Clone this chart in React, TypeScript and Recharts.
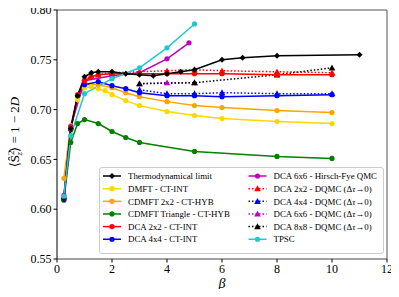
import React from "react";
import { LineChart, Line, XAxis, YAxis, Customized } from "recharts";

// ---- data ----
const thermoBeta = [0.25, 0.5, 0.75, 1, 1.25, 1.5, 2, 2.5, 3, 3.5, 4, 4.5, 5, 6, 6.75, 8, 11];
const thermoVal = [0.611, 0.681, 0.714, 0.733, 0.737, 0.738, 0.738, 0.736, 0.735, 0.734, 0.736, 0.738, 0.740, 0.750, 0.752, 0.754, 0.755];

const dmftBeta = [0.25, 0.5, 0.75, 1, 1.25, 1.5, 1.75, 2, 2.5, 3, 4, 5, 6, 8, 10];
const dmftVal = [0.612, 0.68, 0.71, 0.722, 0.723, 0.721, 0.719, 0.715, 0.709, 0.704, 0.698, 0.694, 0.691, 0.688, 0.686];

const cdmftBeta = [0.25, 0.5, 0.75, 1, 1.5, 2, 2.5, 3, 4, 5, 6, 8, 10];
const cdmftVal = [0.631, 0.684, 0.714, 0.725, 0.725, 0.722, 0.717, 0.713, 0.708, 0.704, 0.702, 0.699, 0.697];

const triBeta = [0.25, 0.5, 0.75, 1, 1.5, 2, 2.5, 3, 5, 8, 10];
const triVal = [0.609, 0.667, 0.686, 0.690, 0.686, 0.678, 0.672, 0.667, 0.658, 0.653, 0.651];

const dca2Beta = [0.25, 0.5, 0.75, 1, 1.25, 1.5, 2, 3, 4, 5, 6, 8, 10];
const dca2Val = [0.611, 0.681, 0.715, 0.729, 0.733, 0.735, 0.736, 0.736, 0.736, 0.736, 0.736, 0.735, 0.735];

const dca4Beta = [0.25, 0.5, 0.75, 1, 1.5, 2, 2.5, 3, 4, 5, 6, 8, 10];
const dca4Val = [0.61, 0.68, 0.714, 0.725, 0.728, 0.724, 0.721, 0.717, 0.714, 0.714, 0.713, 0.714, 0.715];

const hfBeta = [0.25, 0.5, 1, 2, 3, 4, 4.8];
const hfVal = [0.614, 0.683, 0.729, 0.734, 0.737, 0.751, 0.767];

const dq2Beta = [1, 1.5, 2, 3, 4, 5, 6, 8, 10];
const dq2Val = [0.731, 0.735, 0.737, 0.738, 0.739, 0.740, 0.739, 0.738, 0.737];

const dq4Beta = [3, 4, 5, 6, 8, 10];
const dq4Val = [0.720, 0.716, 0.716, 0.717, 0.716, 0.716];

const dq6Beta = [3, 4, 5];
const dq6Val = [0.726, 0.727, 0.727];

const dq8Beta = [3, 5, 8, 10];
const dq8Val = [0.726, 0.727, 0.735, 0.742];

const tpscBeta = [0.25, 0.5, 1, 2, 3, 4, 5];
const tpscVal = [0.613, 0.674, 0.716, 0.731, 0.742, 0.762, 0.786];

const xTicks = [0, 2, 4, 6, 8, 10, 12];
const yTicks = [0.55, 0.6, 0.65, 0.7, 0.75, 0.8];

const zip = (b: number[], v: number[]) => b.map((x, i) => ({ beta: x, val: v[i] }));

type Marker = "circle" | "diamond" | "triangle";
interface Series {
  key: string;
  name: string;
  color: string;
  marker: Marker;
  dotted: boolean;
  data: { beta: number; val: number }[];
}

const series: Series[] = [
  { key: "thermo", name: "Thermodynamical limit", color: "#000000", marker: "diamond", dotted: false, data: zip(thermoBeta, thermoVal) },
  { key: "dmft", name: "DMFT - CT-INT", color: "#FFD700", marker: "circle", dotted: false, data: zip(dmftBeta, dmftVal) },
  { key: "cdmft", name: "CDMFT 2x2 - CT-HYB", color: "#FFA500", marker: "circle", dotted: false, data: zip(cdmftBeta, cdmftVal) },
  { key: "tri", name: "CDMFT Triangle - CT-HYB", color: "#008000", marker: "circle", dotted: false, data: zip(triBeta, triVal) },
  { key: "dca2", name: "DCA 2x2 - CT-INT", color: "#FF0000", marker: "circle", dotted: false, data: zip(dca2Beta, dca2Val) },
  { key: "dca4", name: "DCA 4x4 - CT-INT", color: "#0000FF", marker: "circle", dotted: false, data: zip(dca4Beta, dca4Val) },
  { key: "hf", name: "DCA 6x6 - Hirsch-Fye QMC", color: "#BF00BF", marker: "circle", dotted: false, data: zip(hfBeta, hfVal) },
  { key: "dq2", name: "DCA 2x2 - DQMC", color: "#FF0000", marker: "triangle", dotted: true, data: zip(dq2Beta, dq2Val) },
  { key: "dq4", name: "DCA 4x4 - DQMC", color: "#0000FF", marker: "triangle", dotted: true, data: zip(dq4Beta, dq4Val) },
  { key: "dq6", name: "DCA 6x6 - DQMC", color: "#BF00BF", marker: "triangle", dotted: true, data: zip(dq6Beta, dq6Val) },
  { key: "dq8", name: "DCA 8x8 - DQMC", color: "#000000", marker: "triangle", dotted: true, data: zip(dq8Beta, dq8Val) },
  { key: "tpsc", name: "TPSC", color: "#1FC9D0", marker: "circle", dotted: false, data: zip(tpscBeta, tpscVal) },
];

const drawOrder = ["dmft", "cdmft", "tri", "dca4", "dq4", "hf", "dq6", "dq8", "dca2", "dq2", "thermo", "tpsc"];

const MarkerShape = ({ cx, cy, color, marker }: { cx: number; cy: number; color: string; marker: Marker }) => {
  if (cx == null || cy == null) return null;
  if (marker === "diamond") {
    const s = 3;
    return <polygon points={`${cx},${cy - s} ${cx + s},${cy} ${cx},${cy + s} ${cx - s},${cy}`} fill={color} />;
  }
  if (marker === "triangle") {
    const s = 3.3;
    return <polygon points={`${cx},${cy - s} ${cx + s},${cy + s * 0.8} ${cx - s},${cy + s * 0.8}`} fill={color} />;
  }
  return <circle cx={cx} cy={cy} r={2.6} fill={color} />;
};

const serif = "'Liberation Serif', 'Times New Roman', 'DejaVu Serif', serif";

const LegendRow = ({ s, x, y }: { s: Series; x: number; y: number }) => (
  <g>
    <line x1={x} y1={y} x2={x + 18} y2={y} stroke={s.color} strokeWidth={1.5} strokeDasharray={s.dotted ? "1.5 2" : undefined} />
    <MarkerShape cx={x + 9} cy={y} color={s.color} marker={s.marker} />
    <text x={x + 25} y={y + 3.2} fontSize={8.9} fill="#000">
      {s.name}
      {s.dotted ? (
        <tspan>
          {" ("}
          <tspan>Δ</tspan>
          <tspan fontStyle="italic">τ</tspan>
          {"→0)"}
        </tspan>
      ) : null}
    </text>
  </g>
);

const LegendBox = () => {
  const left = series.slice(0, 6);
  const right = series.slice(6);
  const y0 = 176;
  const dy = 12.65;
  return (
    <svg width={399} height={297} style={{ position: "absolute", left: 0, top: 0, pointerEvents: "none", fontFamily: serif }}>
      <rect x={99.5} y={167.5} width={284} height={86} rx={2.5} fill="rgba(255,255,255,0.8)" stroke="#cccccc" strokeWidth={1} />
      {left.map((s, i) => (
        <LegendRow key={s.key} s={s} x={103} y={y0 + i * dy} />
      ))}
      {right.map((s, i) => (
        <LegendRow key={s.key} s={s} x={248.5} y={y0 + i * dy} />
      ))}
    </svg>
  );
};

const Frame = (props: any) => {
  const off = props.offset || { left: 57, top: 10, width: 330, height: 249 };
  const { left, top, width, height } = off;
  return (
    <g>
      <line x1={left} y1={top} x2={left + width} y2={top} stroke="#555" strokeWidth={1} />
      <line x1={left + width} y1={top} x2={left + width} y2={top + height} stroke="#555" strokeWidth={1} />
    </g>
  );
};

const Labels = () => (
  <g style={{ fontFamily: serif }}>
    <text transform="translate(19,132) rotate(-90)" textAnchor="middle" fontSize={13} fill="#000">
      <tspan>⟨</tspan>
      <tspan>Ŝ</tspan>
      <tspan fontSize={9} dy={-5}>2</tspan>
      <tspan fontSize={9} dx={-5} dy={8} fontStyle="italic">z</tspan>
      <tspan dy={-3}>⟩ = 1 − 2</tspan>
      <tspan fontStyle="italic">D</tspan>
    </text>
    <text x={222} y={288} textAnchor="middle" fontSize={14} fontStyle="italic" fill="#000">
      β
    </text>
  </g>
);

export default function App() {
  const ordered = drawOrder.map((k) => series.find((s) => s.key === k)!);
  return (
    <div style={{ position: "relative", width: 399, height: 297, margin: -8, background: "#fff", fontFamily: serif }}>
      <LineChart width={399} height={297} margin={{ top: 10, right: 12, left: 0, bottom: 0 }} style={{ fontFamily: serif }}>
        <XAxis
          dataKey="beta"
          type="number"
          domain={[0, 12]}
          ticks={xTicks}
          allowDuplicatedCategory={false}
          height={38}
          tickSize={3.5}
          tickMargin={2}
          stroke="#444"
          tick={{ fill: "#000", fontSize: 12 }}
          tickLine={{ stroke: "#000" }}
        />
        <YAxis
          dataKey="val"
          type="number"
          domain={[0.55, 0.8]}
          ticks={yTicks}
          width={57}
          tickSize={3.5}
          tickMargin={2}
          stroke="#000"
          tick={{ fill: "#000", fontSize: 12 }}
          tickFormatter={(v: number) => v.toFixed(2)}
          allowDataOverflow
        />
        <Customized component={Frame} />
        {ordered.map((s) => (
          <Line
            key={s.key}
            data={s.data}
            dataKey="val"
            name={s.name}
            type="linear"
            stroke={s.color}
            strokeWidth={1.5}
            strokeDasharray={s.dotted ? "1.5 2" : undefined}
            isAnimationActive={false}
            dot={(p: any) => <MarkerShape key={`${s.key}-${p.index}`} cx={p.cx} cy={p.cy} color={s.color} marker={s.marker} />}
            activeDot={false}
            legendType="none"
          />
        ))}
        <Customized component={Labels} />
      </LineChart>
      <LegendBox />
    </div>
  );
}
